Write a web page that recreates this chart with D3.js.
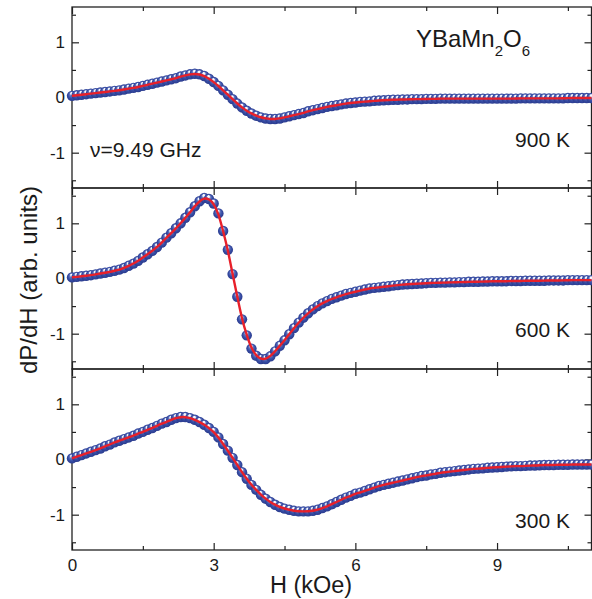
<!DOCTYPE html>
<html>
<head>
<meta charset="utf-8">
<script src="https://cdn.jsdelivr.net/npm/d3@7"></script>
<style>
  body { margin: 0; background: #fff; }
  text { font-family: "Liberation Sans", Arial, sans-serif; fill: #1a1a1a; }
</style>
</head>
<body>
<svg id="chart" width="592" height="599"></svg>
<script>
// field sweep, 0.1 kOe steps
var field = d3.range(0, 111).map((i) => i / 10);

// dP/dH (arb. units), one value per field step
var t900 = [
  0.03, 0.04, 0.05, 0.06, 0.07, 0.08, 0.09, 0.10, 0.11, 0.12,
  0.13, 0.145, 0.16, 0.175, 0.19, 0.21, 0.23, 0.25, 0.27, 0.29,
  0.31, 0.33, 0.35, 0.38, 0.40, 0.42, 0.43, 0.42, 0.39, 0.34,
  0.28, 0.21, 0.13, 0.05, -0.03, -0.11, -0.18, -0.24, -0.29, -0.33,
  -0.36, -0.38, -0.39, -0.39, -0.38, -0.36, -0.34, -0.32, -0.30, -0.28,
  -0.25, -0.23, -0.21, -0.19, -0.17, -0.155, -0.14, -0.125, -0.11, -0.10,
  -0.09, -0.08, -0.075, -0.07, -0.06, -0.055, -0.05, -0.045, -0.04, -0.04,
  -0.035, -0.035, -0.03, -0.03, -0.03, -0.025, -0.025, -0.025, -0.02, -0.02,
  -0.02, -0.02, -0.02, -0.02, -0.02, -0.02, -0.02, -0.02, -0.02, -0.02,
  -0.02, -0.02, -0.02, -0.02, -0.02, -0.015, -0.015, -0.015, -0.015, -0.015,
  -0.015, -0.015, -0.015, -0.015, -0.015, -0.01, -0.01, -0.01, -0.01, -0.01, -0.01
];
var t600 = [
  0.02, 0.03, 0.04, 0.05, 0.06, 0.075, 0.09, 0.105, 0.12, 0.14,
  0.16, 0.19, 0.23, 0.27, 0.32, 0.38, 0.44, 0.50, 0.57, 0.65,
  0.74, 0.82, 0.91, 1.00, 1.10, 1.20, 1.31, 1.40, 1.46, 1.44,
  1.36, 1.18, 0.86, 0.52, 0.08, -0.33, -0.74, -1.03, -1.27, -1.40,
  -1.46, -1.46, -1.41, -1.32, -1.22, -1.12, -1.01, -0.90, -0.80, -0.71,
  -0.63, -0.56, -0.50, -0.45, -0.41, -0.37, -0.34, -0.31, -0.28, -0.26,
  -0.24, -0.22, -0.20, -0.18, -0.17, -0.16, -0.15, -0.14, -0.13, -0.12,
  -0.11, -0.105, -0.10, -0.095, -0.09, -0.085, -0.08, -0.08, -0.075, -0.075,
  -0.07, -0.07, -0.065, -0.065, -0.06, -0.06, -0.06, -0.055, -0.055, -0.05,
  -0.05, -0.05, -0.05, -0.045, -0.045, -0.045, -0.04, -0.04, -0.04, -0.04,
  -0.04, -0.035, -0.035, -0.035, -0.035, -0.03, -0.03, -0.03, -0.03, -0.03, -0.03
];
var t300 = [
  0.02, 0.05, 0.08, 0.11, 0.14, 0.17, 0.20, 0.24, 0.27, 0.31,
  0.34, 0.37, 0.40, 0.43, 0.47, 0.50, 0.54, 0.57, 0.61, 0.65,
  0.68, 0.72, 0.75, 0.77, 0.77, 0.75, 0.72, 0.68, 0.63, 0.57,
  0.50, 0.40, 0.28, 0.16, 0.03, -0.10, -0.23, -0.35, -0.46, -0.55,
  -0.64, -0.71, -0.77, -0.82, -0.86, -0.89, -0.91, -0.93, -0.94, -0.94,
  -0.94, -0.93, -0.91, -0.88, -0.85, -0.81, -0.77, -0.73, -0.69, -0.66,
  -0.62, -0.60, -0.57, -0.54, -0.51, -0.48, -0.46, -0.44, -0.42, -0.40,
  -0.38, -0.36, -0.34, -0.32, -0.30, -0.29, -0.27, -0.26, -0.24, -0.23,
  -0.22, -0.21, -0.20, -0.19, -0.18, -0.17, -0.165, -0.16, -0.15, -0.145,
  -0.14, -0.135, -0.13, -0.125, -0.12, -0.12, -0.115, -0.11, -0.11, -0.105,
  -0.10, -0.10, -0.10, -0.095, -0.095, -0.095, -0.09, -0.09, -0.09, -0.09, -0.09
];

var temps = ["900 K", "600 K", "300 K"];
var series = [t900, t600, t300];

var xTicks = [0, 3, 6, 9],
  xMinor = [1.5, 4.5, 7.5, 10.5],
  yTicks = [-1, 0, 1],
  yMinor = [-1.5, -0.5, 0.5, 1.5];

var left = 72,
  right = 591.5,
  top0 = 7,
  panelH = 181;

var svg = d3.select("#chart");

var grad = svg
  .append("defs")
  .append("radialGradient")
  .attr("id", "ball")
  .attr("cx", "0.5")
  .attr("cy", "0.5")
  .attr("r", "0.5")
  .attr("fx", "0.45")
  .attr("fy", "0.2");
grad.append("stop").attr("offset", "0").attr("stop-color", "#ffffff");
grad.append("stop").attr("offset", "0.2").attr("stop-color", "#eceffa");
grad.append("stop").attr("offset", "0.4").attr("stop-color", "#6276c0");
grad.append("stop").attr("offset", "0.7").attr("stop-color", "#384ea6");
grad.append("stop").attr("offset", "1").attr("stop-color", "#2a3b8e");

var x = d3.scaleLinear().domain([0, 11]).range([left, right]);

var fmt = (d) => (d < 0 ? "-" + Math.abs(d) : "" + d);

series.forEach(function (vals, i) {
  var top = top0 + i * panelH;
  var y = d3.scaleLinear().domain([-1.64, 1.64]).range([top + panelH, top]);
  var g = svg.append("g");

  // ticks on all four sides, pointing inwards
  var axes = [
    [d3.axisLeft(y).tickValues(yTicks).tickSize(-7).tickPadding(7).tickFormat(fmt), left, 0],
    [d3.axisLeft(y).tickValues(yMinor).tickSize(-4).tickFormat(""), left, 0],
    [d3.axisRight(y).tickValues(yTicks).tickSize(-7).tickFormat(""), right, 0],
    [d3.axisRight(y).tickValues(yMinor).tickSize(-4).tickFormat(""), right, 0],
    [d3.axisTop(x).tickValues(xTicks).tickSize(-7).tickFormat(""), 0, top],
    [d3.axisTop(x).tickValues(xMinor).tickSize(-4).tickFormat(""), 0, top],
    [
      d3.axisBottom(x).tickValues(xTicks).tickSize(-7).tickPadding(9)
        .tickFormat(i == 2 ? fmt : ""),
      0,
      top + panelH,
    ],
    [d3.axisBottom(x).tickValues(xMinor).tickSize(-4).tickFormat(""), 0, top + panelH],
  ];
  axes.forEach(function (a) {
    var ag = g.append("g").attr("transform", "translate(" + a[1] + "," + a[2] + ")").call(a[0]);
    ag.select(".domain").remove();
    ag.selectAll("line").attr("stroke", "#222").attr("stroke-width", 1.2);
    ag.selectAll("text").attr("font-size", 17).attr("fill", "#222")
      .style("font-family", '"Liberation Sans", Arial, sans-serif');
  });

  g.append("rect")
    .attr("x", left)
    .attr("y", top)
    .attr("width", right - left)
    .attr("height", panelH)
    .attr("fill", "none")
    .attr("stroke", "#222")
    .attr("stroke-width", 1.3);

  var pts = field.map((h, k) => ({ h: h, v: vals[k] }));

  g.append("g")
    .selectAll("circle")
    .data(pts)
    .enter()
    .append("circle")
    .attr("cx", (d) => x(d.h))
    .attr("cy", (d) => y(d.v))
    .attr("r", 5.2)
    .attr("fill", "url(#ball)");

  var line = d3
    .line()
    .x((d) => x(d.h))
    .y((d) => y(d.v))
    .curve(d3.curveBasis);

  g.append("path")
    .datum(pts)
    .attr("d", line)
    .attr("fill", "none")
    .attr("stroke", "#e8202a")
    .attr("stroke-width", 2.4);

  g.append("text")
    .attr("x", 570)
    .attr("y", top + [139.7, 148.7, 158.7][i])
    .attr("text-anchor", "end")
    .attr("font-size", 21)
    .text(temps[i]);
});

// sample and frequency notes
var title = svg.append("text").attr("x", 416).attr("y", 46.7).attr("font-size", 24);
title.append("tspan").text("YBaMn");
title.append("tspan").attr("font-size", 15).attr("dy", 9).text("2");
title.append("tspan").attr("dy", -9).text("O");
title.append("tspan").attr("font-size", 15).attr("dy", 9).text("6");

svg.append("text").attr("x", 90).attr("y", 156.7).attr("font-size", 21).text("ν=9.49 GHz");

svg
  .append("text")
  .attr("x", 311)
  .attr("y", 593)
  .attr("text-anchor", "middle")
  .attr("font-size", 23.5)
  .text("H (kOe)");

svg
  .append("text")
  .attr("transform", "translate(37,280) rotate(-90)")
  .attr("text-anchor", "middle")
  .attr("font-size", 24)
  .text("dP/dH (arb. units)");
</script>
</body>
</html>
